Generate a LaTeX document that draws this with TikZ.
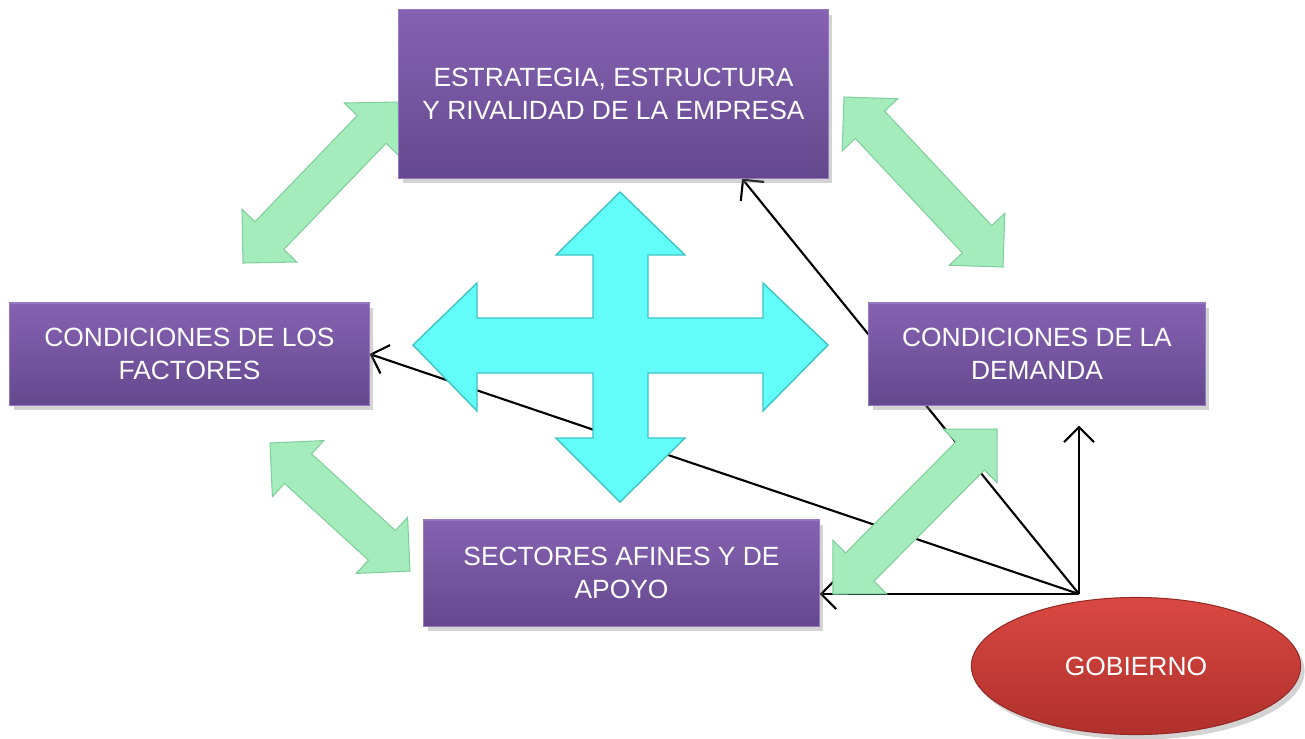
\documentclass[tikz,border=0pt]{standalone}
\usepackage{fontspec}
\setmainfont{Liberation Sans}
\usetikzlibrary{arrows.meta,shapes.geometric,shadows,backgrounds,calc}

\definecolor{boxtop}{RGB}{134,98,178}
\definecolor{boxbot}{RGB}{100,72,142}
\definecolor{boxline}{RGB}{150,122,192}
\definecolor{crossfill}{RGB}{98,253,248}
\definecolor{crossline}{RGB}{62,196,196}
\definecolor{greenfill}{RGB}{164,236,188}
\definecolor{greenline}{RGB}{128,206,156}
\definecolor{govtop}{RGB}{218,72,66}
\definecolor{govbot}{RGB}{176,48,44}

% green double arrow between two named points
\newcommand{\dblarrow}[2]{%
  \coordinate (da) at ($(#1)!0.38cm!(#2)$);
  \coordinate (db) at ($(#2)!0.38cm!(#1)$);
  \draw[greenarrow] (#1) -- ($(da)!0.38cm!90:(#2)$) -- ($(da)!0.2cm!90:(#2)$) -- ($(db)!0.2cm!-90:(#1)$)
    -- ($(db)!0.38cm!-90:(#1)$) -- (#2) -- ($(db)!0.38cm!90:(#1)$) -- ($(db)!0.2cm!90:(#1)$)
    -- ($(da)!0.2cm!-90:(#2)$) -- ($(da)!0.38cm!-90:(#2)$) -- cycle;}

\begin{document}
\begin{tikzpicture}[x=0.01cm, y=-0.01cm,
    every node/.style={font=\fontsize{7.5}{9.4}\selectfont, text=white, align=center},
    factorbox/.style={rectangle, top color=boxtop, bottom color=boxbot, draw=boxline, line width=0.3pt, inner sep=0pt,
      drop shadow={shadow xshift=0.04cm, shadow yshift=-0.05cm, opacity=0.35}},
    govnode/.style={ellipse, top color=govtop, bottom color=govbot, draw=govbot!85!black, line width=0.3pt, inner sep=0pt,
      minimum width=3.29cm, minimum height=1.37cm, drop shadow={shadow xshift=0.04cm, shadow yshift=-0.05cm, opacity=0.35}},
    linkarrow/.style={draw, line width=0.6pt, -{Straight Barb[length=1.5mm, width=3mm]}},
    greenarrow/.style={fill=greenfill, draw=greenline, line width=0.3pt, line join=miter},
    crossshape/.style={fill=crossfill, draw=crossline, line width=0.4pt, line join=miter}
  ]
  \useasboundingbox (0,0) rectangle (1305,738);

  % Nodes
  \node[factorbox, minimum width=4.29cm, minimum height=1.68cm] at (613.5,94) (estr) {ESTRATEGIA, ESTRUCTURA\\Y RIVALIDAD DE LA EMPRESA};
  \node[factorbox, minimum width=3.59cm, minimum height=1.02cm] at (189.5,354) (fact) {CONDICIONES DE LOS\\FACTORES};
  \node[factorbox, minimum width=3.36cm, minimum height=1.02cm] at (1037,354) (dem) {CONDICIONES DE LA\\DEMANDA};
  \node[factorbox, minimum width=3.95cm, minimum height=1.06cm] at (621.5,573) (sect) {SECTORES AFINES Y DE\\APOYO};
  \node[govnode] at (1136,666) (gob) {GOBIERNO};

  \coordinate (gov) at (1079,594);

  % ends of the green double arrows
  \coordinate (tl1) at (243,263);  \coordinate (tl2) at (398,102);
  \coordinate (tr1) at (844,97);   \coordinate (tr2) at (1003,267);
  \coordinate (bl1) at (270,443);  \coordinate (bl2) at (410,571);
  \coordinate (br1) at (997,429);  \coordinate (br2) at (833,594);

  \begin{scope}[on background layer]
    \draw[linkarrow] (gov) -- ([xshift=1.285cm]estr.south);
    \draw[linkarrow] (gov) -- (fact.east);
    \draw[linkarrow] (gov) -- ([yshift=-0.2cm]gov |- dem.south);
    \draw[linkarrow] (gov) -- (gov -| sect.east);

    \dblarrow{tl1}{tl2}
    \dblarrow{tr1}{tr2}
    \dblarrow{bl1}{bl2}
    \dblarrow{br1}{br2}

    % central cross
    \draw[crossshape] (413,345) -- (477,283) -- (477,318) -- (593,318) -- (593,255) -- (556,255) -- (620,192)
      -- (685,255) -- (648,255) -- (648,318) -- (763,318) -- (763,283) -- (828,345) -- (763,411) -- (763,373)
      -- (648,373) -- (648,438) -- (685,438) -- (620,502) -- (556,438) -- (593,438) -- (593,373) -- (477,373)
      -- (477,411) -- cycle;
  \end{scope}
\end{tikzpicture}
\end{document}
